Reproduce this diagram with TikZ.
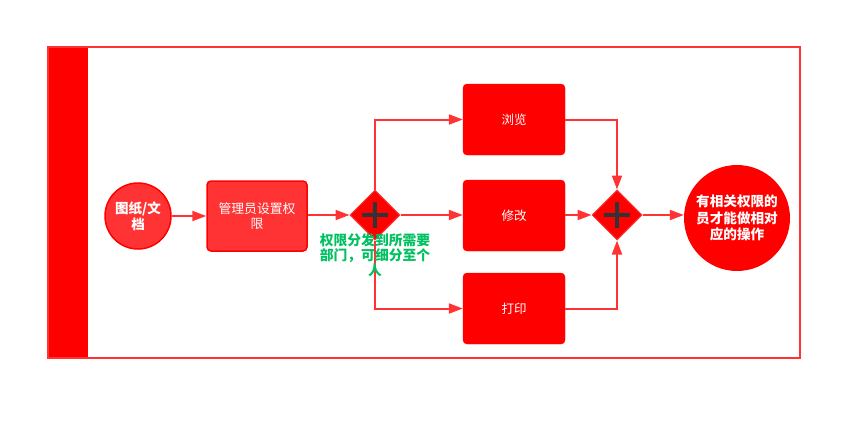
\documentclass[tikz,border=0pt]{standalone}
\usepackage{fontspec}
\setmainfont{Noto Sans CJK SC}
\usetikzlibrary{arrows.meta,shapes.geometric}
\definecolor{rA}{HTML}{FF0000}
\definecolor{rB}{HTML}{FF3333}
\definecolor{gtext}{HTML}{00C060}
\definecolor{plusc}{HTML}{333333}
\tikzset{
  conn/.style={draw=rB,line width=2pt,-{Triangle[length=14pt,width=10pt]}},
  taskbox/.style={rectangle,rounded corners=4pt,fill=rA,draw=rA,minimum width=102pt,minimum height=71pt,inner sep=0pt,text=white,font=\fontsize{12.5}{15}\selectfont,align=center},
  gatew/.style={diamond,fill=rA,draw=rB,line width=1pt,minimum width=50pt,minimum height=50pt,inner sep=0pt},
  plusmark/.style={draw=plusc,line width=4pt},
}
\begin{document}
\begin{tikzpicture}[x=1pt,y=-1pt]
\useasboundingbox (0,0) rectangle (862,421);
% frame
\fill[rA] (48,47) rectangle (88,358);
\draw[rB,line width=2pt] (48,47) rectangle (800,358);
% start circle
\node[circle,fill=rB,draw=rA,line width=1.5pt,minimum size=66pt,inner sep=0pt,text=white,font=\fontsize{13.5}{16}\selectfont\bfseries,align=center] (start) at (138,216) {图纸/文\\档};
% admin box
\node[rectangle,rounded corners=4pt,fill=rB,draw=rA,line width=1.5pt,minimum width=100pt,minimum height=70pt,inner sep=0pt,text=white,font=\fontsize{12.8}{15}\selectfont,align=center] (admin) at (257,216) {管理员设置权\\限};
% left gateway
\node[gatew] (g1) at (375,215) {};
\draw[plusmark] (362,215) -- (388,215);
\draw[plusmark] (375,202) -- (375,228);
% tasks
\node[taskbox] (view) at (514,119.5) {浏览};
\node[taskbox] (edit) at (514,215.5) {修改};
\node[taskbox] (print) at (514,308.5) {打印};
% right gateway
\node[gatew] (g2) at (617,215) {};
\draw[plusmark] (604,215) -- (630,215);
\draw[plusmark] (617,202) -- (617,228);
% end circle
\node[circle,fill=rA,minimum size=106pt,inner sep=0pt,text=white,font=\fontsize{13.6}{16.5}\selectfont\bfseries,align=center] (end) at (737,218) {有相关权限的\\员才能做相对\\应的操作};
% connectors
\draw[conn] (start.east) -- (admin.west);
\draw[conn] (admin.east |- g1.west) -- (g1.west);
\draw[conn] (g1.north) |- (view.west);
\draw[conn] (g1.east) -- (edit.west |- g1.east);
\draw[conn] (g1.south) |- (print.west);
\draw[conn] (view.east) -| (g2.north);
\draw[conn] (edit.east |- g2.west) -- (g2.west);
\draw[conn] (print.east) -| (g2.south);
\draw[conn] (g2.east) -- (end.west |- g2.east);
% label
\node[text=gtext,font=\fontsize{13.8}{15}\selectfont\bfseries,align=center,inner sep=0pt] (lbl) at (375,255) {权限分发到所需要\\部门，可细分至个\\人};
\end{tikzpicture}
\end{document}
